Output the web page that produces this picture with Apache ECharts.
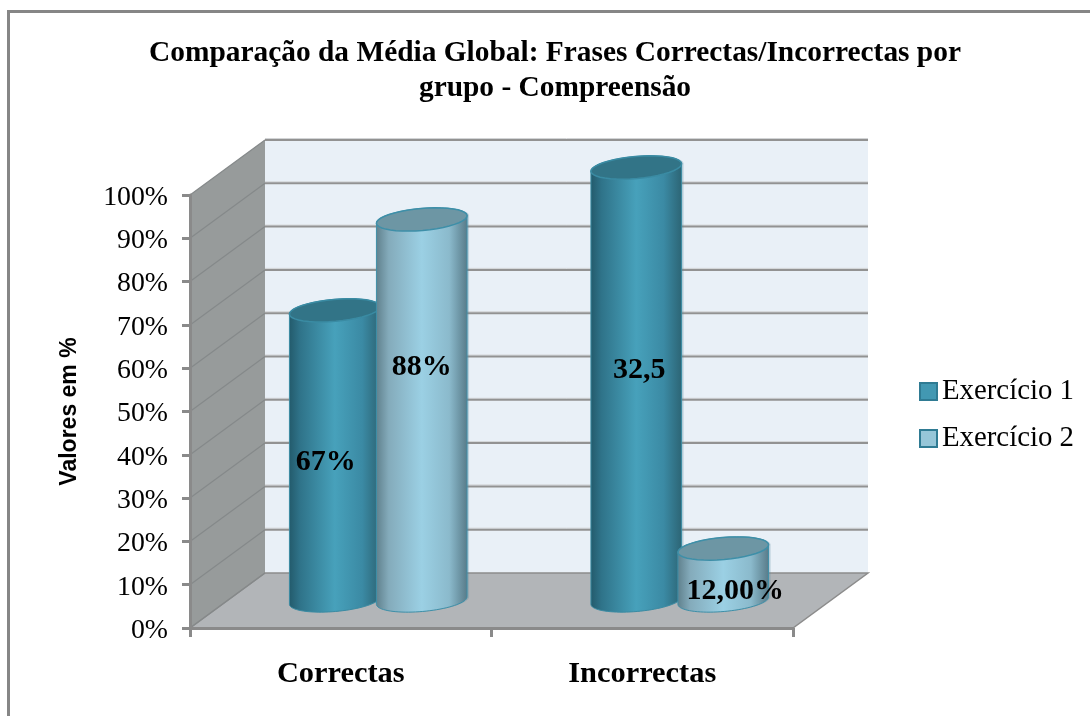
<!DOCTYPE html>
<html>
<head>
<meta charset="utf-8">
<script src="https://cdn.jsdelivr.net/npm/echarts@6/dist/echarts.min.js"></script>
<style>
html, body { margin: 0; padding: 0; background: #fff; }
#main { width: 1090px; height: 716px; }
</style>
</head>
<body>
<div id="main"></div>
<script>
var titleText = "Comparação da Média Global: Frases Correctas/Incorrectas por\ngrupo - Compreensão";
var yAxisName = "Valores em %";
var categories = ["Correctas", "Incorrectas"];
var seriesNames = ["Exercício 1", "Exercício 2"];
var exercicio1 = [67, 100];
var exercicio2 = [88, 12];
var exercicio1Labels = ["67%", "32,5"];
var exercicio2Labels = ["88%", "12,00%"];
var yTicks = [0, 10, 20, 30, 40, 50, 60, 70, 80, 90, 100];

var serif = '"Liberation Serif", serif';
var depthX = 75, depthY = 55;
var radiusX = 45.5, radiusY = 11, tilt = -5 * Math.PI / 180;
var barOffset = 43.5;

// hand placed labels in the source chart, dx/dy from the middle of the cylinder
var labelNudge = {
    "67%": [-9, 7],
    "88%": [0, -43],
    "32,5": [3, -14],
    "12,00%": [12, 17]
};

function ellipseArc(cx, cy, from, to) {
    var pts = [];
    for (var i = 0; i <= 40; i++) {
        var t = from + (to - from) * i / 40;
        var ex = radiusX * Math.cos(t), ey = radiusY * Math.sin(t);
        pts.push([
            cx + ex * Math.cos(tilt) - ey * Math.sin(tilt),
            cy + ex * Math.sin(tilt) + ey * Math.cos(tilt)
        ]);
    }
    return pts;
}

function cylinderItem(side, labels, stops, capColor, rimColor) {
    return function (params, api) {
        var idx = api.value(0);
        var top = api.coord([idx, api.value(1)]);
        var base = api.coord([idx, 0]);
        var cx = top[0] + depthX / 2 + side * barOffset;
        var topY = top[1] - depthY / 2;
        var baseY = base[1] - depthY / 2;
        // body = front half of base ellipse + the sides up to the top ellipse
        var lower = ellipseArc(cx, baseY, 0, Math.PI);
        var upper = ellipseArc(cx, topY, Math.PI, 2 * Math.PI);
        var body = lower.concat(upper);
        var shadow = body.map(function (p) { return [p[0] + 2, p[1]]; });
        var label = labels[params.dataIndex];
        var nudge = labelNudge[label];
        return {
            type: "group",
            children: [
                {
                    type: "polygon",
                    shape: { points: shadow },
                    style: { fill: "rgba(90,140,160,0.3)" }
                },
                {
                    type: "polygon",
                    shape: { points: body },
                    style: {
                        fill: {
                            type: "linear", x: 0, y: 0, x2: 1, y2: 0,
                            colorStops: stops
                        },
                        stroke: rimColor,
                        lineWidth: 1
                    }
                },
                {
                    type: "polygon",
                    shape: { points: ellipseArc(cx, topY, 0, 2 * Math.PI) },
                    style: { fill: capColor, stroke: rimColor, lineWidth: 1.5 }
                },
                {
                    type: "text",
                    z2: 50,
                    style: {
                        text: label,
                        x: cx + nudge[0],
                        y: (topY + baseY) / 2 + nudge[1],
                        align: "center",
                        verticalAlign: "middle",
                        font: 'bold 30px ' + serif,
                        fill: "#000"
                    }
                }
            ]
        };
    };
}

function wallsItem(params, api) {
    var sys = params.coordSys;
    var x0 = sys.x, x1 = sys.x + sys.width;
    var y0 = api.coord([0, 0])[1], y100 = api.coord([0, 100])[1];
    var kids = [
        {
            type: "polygon",
            shape: { points: [[x0 + depthX, y100 - depthY], [x1 + depthX, y100 - depthY], [x1 + depthX, y0 - depthY], [x0 + depthX, y0 - depthY]] },
            style: { fill: "#e9f0f7" }
        },
        {
            type: "polygon",
            shape: { points: [[x0, y100], [x0 + depthX, y100 - depthY], [x0 + depthX, y0 - depthY], [x0, y0]] },
            style: { fill: "#979b9b" }
        },
        {
            type: "polygon",
            shape: { points: [[x0, y0], [x0 + depthX, y0 - depthY], [x1 + depthX, y0 - depthY], [x1, y0]] },
            style: { fill: "#b2b5b8", stroke: "#8c8c8c", lineWidth: 1.5 }
        }
    ];
    yTicks.forEach(function (v) {
        var y = api.coord([0, v])[1];
        kids.push({
            type: "line",
            shape: { x1: x0, y1: y, x2: x0 + depthX, y2: y - depthY },
            style: { stroke: "#85898a", lineWidth: 1.2 }
        });
        if (v > 0) {
            kids.push({
                type: "line",
                shape: { x1: x0 + depthX, y1: y - depthY - 1.5, x2: x1 + depthX, y2: y - depthY - 1.5 },
                style: { stroke: "#d2d4d6", lineWidth: 1 }
            });
            kids.push({
                type: "line",
                shape: { x1: x0 + depthX, y1: y - depthY, x2: x1 + depthX, y2: y - depthY },
                style: { stroke: "#929292", lineWidth: 2 }
            });
        }
    });
    return { type: "group", children: kids };
}

var darkStops = [
    { offset: 0, color: "#235a6b" },
    { offset: 0.12, color: "#2f7389" },
    { offset: 0.5, color: "#47a1bb" },
    { offset: 0.8, color: "#3b8aa4" },
    { offset: 1, color: "#2c6474" }
];
var lightStops = [
    { offset: 0, color: "#5f808c" },
    { offset: 0.14, color: "#84abbb" },
    { offset: 0.5, color: "#9bd0e4" },
    { offset: 0.8, color: "#8bbacc" },
    { offset: 1, color: "#577a88" }
];

function toData(values) {
    return values.map(function (v, i) { return [i, v]; });
}

var myChart = echarts.init(document.getElementById("main"));
myChart.setOption({
    animation: false,
    backgroundColor: "#fff",
    title: {
        text: titleText,
        left: 550,
        top: 31,
        textAlign: "center",
        textStyle: {
            fontFamily: serif,
            fontWeight: "bold",
            fontSize: 29.4,
            lineHeight: 35,
            color: "#000"
        }
    },
    legend: {
        orient: "vertical",
        left: 914,
        top: 372,
        itemWidth: 17,
        itemHeight: 17,
        itemGap: 18,
        data: [
            { name: seriesNames[0], icon: "rect", itemStyle: { color: "#4298b2", borderColor: "#2f7b93", borderWidth: 2 } },
            { name: seriesNames[1], icon: "rect", itemStyle: { color: "#96c6d8", borderColor: "#2f7b93", borderWidth: 2 } }
        ],
        textStyle: { fontFamily: serif, fontSize: 28.8, color: "#000", padding: [0, 0, 0, 0] }
    },
    grid: { left: 190, top: 195, width: 603, height: 433 },
    xAxis: {
        type: "category",
        data: categories,
        axisLine: { lineStyle: { color: "#8a8a8a", width: 3 } },
        axisTick: { show: true, length: 9, lineStyle: { color: "#8a8a8a", width: 3 } },
        axisLabel: {
            margin: 31,
            fontFamily: serif,
            fontWeight: "bold",
            fontSize: 30.4,
            color: "#000"
        },
        z: 10
    },
    yAxis: {
        type: "value",
        min: 0,
        max: 100,
        interval: 10,
        name: yAxisName,
        nameLocation: "middle",
        nameGap: 109,
        nameRotate: 90,
        nameTextStyle: {
            fontFamily: '"Liberation Sans", sans-serif',
            fontWeight: "bold",
            fontSize: 23,
            color: "#000"
        },
        axisLine: { show: true, lineStyle: { color: "#8a8a8a", width: 3 } },
        axisTick: { show: true, length: 8, lineStyle: { color: "#8a8a8a", width: 3 } },
        axisLabel: {
            margin: 22,
            formatter: "{v|{value}%}",
            rich: {
                v: {
                    fontFamily: serif,
                    fontSize: 27.8,
                    color: "#000",
                    padding: [5, 0, 0, 0]
                }
            }
        },
        splitLine: { show: false },
        z: 10
    },
    series: [
        {
            type: "custom",
            name: "walls",
            silent: true,
            z: 1,
            clip: false,
            data: [[0, 0]],
            renderItem: wallsItem
        },
        {
            type: "custom",
            name: seriesNames[0],
            silent: true,
            z: 2,
            clip: false,
            encode: { x: 0, y: 1 },
            data: toData(exercicio1),
            renderItem: cylinderItem(-1, exercicio1Labels, darkStops, "#327487", "#3a8ba3")
        },
        {
            type: "custom",
            name: seriesNames[1],
            silent: true,
            z: 3,
            clip: false,
            encode: { x: 0, y: 1 },
            data: toData(exercicio2),
            renderItem: cylinderItem(1, exercicio2Labels, lightStops, "#6d96a4", "#3e8fa8")
        }
    ],
    graphic: [
        {
            type: "polyline",
            silent: true,
            shape: { points: [[8.5, 716], [8.5, 11.5], [1090, 11.5]] },
            style: { stroke: "#868686", lineWidth: 3, fill: null }
        }
    ]
});
</script>
</body>
</html>
